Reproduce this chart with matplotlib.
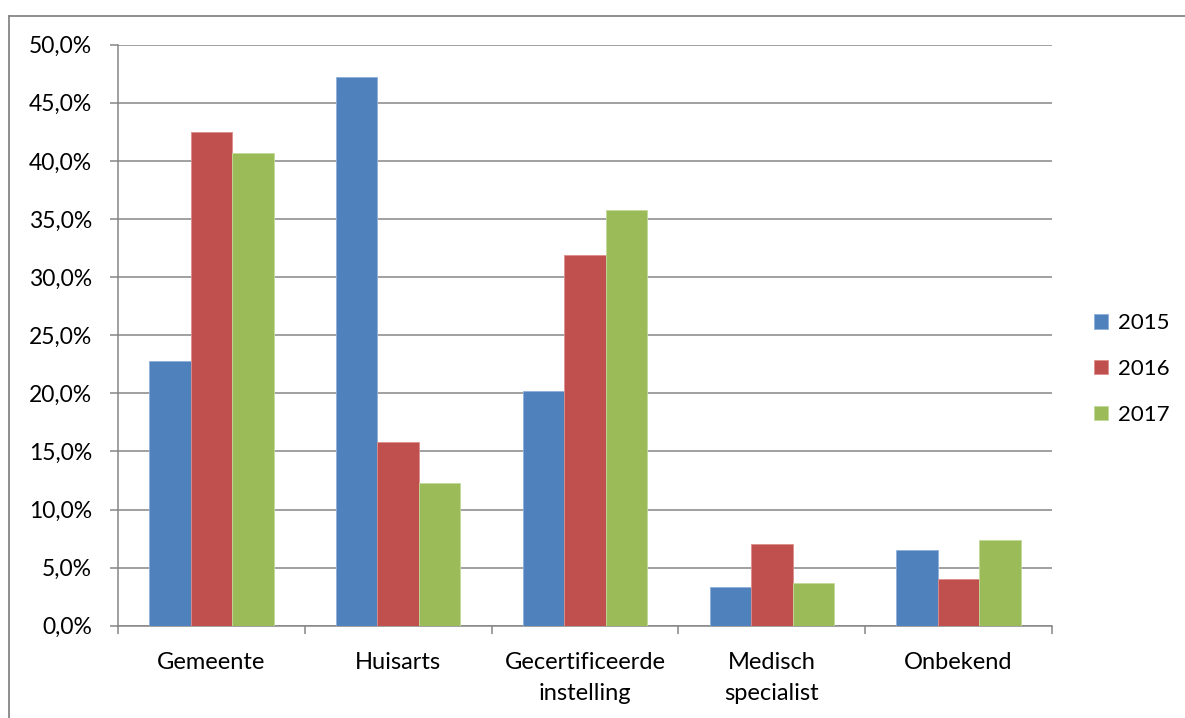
import matplotlib
matplotlib.use("Agg")
import matplotlib.pyplot as plt
import numpy as np
from matplotlib.lines import Line2D
from matplotlib.ticker import FixedLocator, FuncFormatter

categories = ["Gemeente", "Huisarts", "Gecertificeerde\ninstelling",
              "Medisch\nspecialist", "Onbekend"]
years = ["2015", "2016", "2017"]
values_2015 = [22.8, 47.2, 20.2, 3.3, 6.5]
values_2016 = [42.5, 15.8, 31.9, 7.0, 4.0]
values_2017 = [40.7, 12.3, 35.8, 3.7, 7.4]
colors = ["#4F81BD", "#C0504D", "#9BBB59"]
edge_colors = ["#8EAFD8", "#DE8E8C", "#C3D99A"]

plt.rcParams["font.family"] = ["Lato", "DejaVu Sans"]

W, H = 1185, 718
fig = plt.figure(figsize=(W / 100, H / 100), dpi=100)

# plot area in pixel terms
left_px, right_px, top_px, bottom_px = 118, 1052, 44.7, 625.8
ax = fig.add_axes([left_px / W, 1 - bottom_px / H,
                   (right_px - left_px) / W, (bottom_px - top_px) / H])

grid_color = "#868686"
x = np.arange(len(categories))
bar_w = 2 / 3 / 3
series = [values_2015, values_2016, values_2017]
for i, (vals, year) in enumerate(zip(series, years)):
    ax.bar(x + (i - 1) * bar_w, vals, width=bar_w, color=colors[i],
           edgecolor=edge_colors[i], linewidth=0.6, label=year, zorder=3)

ax.set_xlim(-0.5, len(categories) - 0.5)
ax.set_ylim(0, 50)

# horizontal gridlines
ax.set_yticks(np.arange(0, 50.1, 5))
ax.yaxis.set_major_formatter(FuncFormatter(lambda v, p: f"{v:.1f}%".replace(".", ",")))
ax.grid(axis="y", color=grid_color, linewidth=1.1, zorder=1)
ax.tick_params(axis="y", length=5.8, width=1.1, color=grid_color, pad=13,
               labelsize=16.5, labelcolor="black")

# category labels centred, tick marks on category boundaries
ax.set_xticks(x)
ax.set_xticklabels(categories, fontsize=17, linespacing=1.6)
ax.tick_params(axis="x", which="major", length=0, pad=19, labelcolor="black")
ax.xaxis.set_minor_locator(FixedLocator(np.arange(-0.5, len(categories), 1.0)))
ax.tick_params(axis="x", which="minor", length=5.8, width=1.1, color=grid_color)

for side in ["top", "right"]:
    ax.spines[side].set_visible(False)
for side in ["left", "bottom"]:
    ax.spines[side].set_color(grid_color)
    ax.spines[side].set_linewidth(1.1)
ax.set_axisbelow(True)

ax.legend(loc="center left", bbox_to_anchor=(1094 / W, 1 - 369 / H),
          bbox_transform=fig.transFigure, frameon=False, fontsize=16,
          handlelength=0.62, handleheight=0.62, handletextpad=0.45,
          labelspacing=1.15, borderpad=0, borderaxespad=0)

# outer chart frame (top and left edges)
fig.add_artist(Line2D([9 / W, 1.0], [1 - 16 / H, 1 - 16 / H],
                      transform=fig.transFigure, color=grid_color, linewidth=1.3))
fig.add_artist(Line2D([9 / W, 9 / W], [1 - 16 / H, 0.0],
                      transform=fig.transFigure, color=grid_color, linewidth=1.3))

fig.savefig("out.png", dpi=100)
